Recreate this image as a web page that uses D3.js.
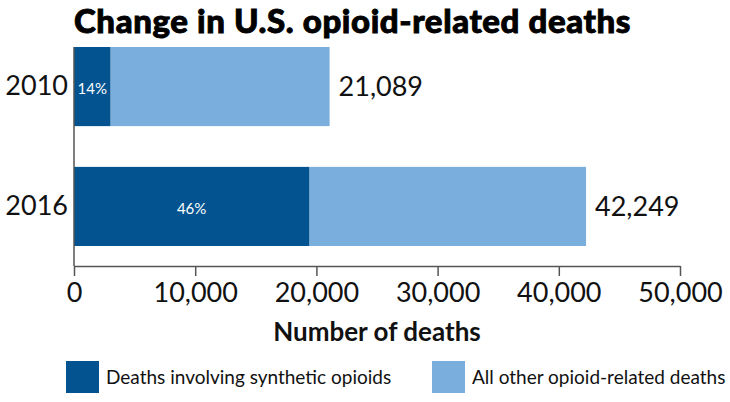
<!DOCTYPE html>
<html><head><meta charset="utf-8">
<script src="https://cdn.jsdelivr.net/npm/d3@7"></script>
<style>
html,body{margin:0;padding:0;background:#fff;}
svg{display:block;font-family:Lato, "Open Sans", sans-serif;}
</style></head>
<body>
<svg id="chart" width="730" height="402"></svg>
<script>
const years = ["2010", "2016"];
const synthetic = [3007, 19413];
const totals = [21089, 42249];
const pctLabels = ["14%", "46%"];
const xTicks = [0, 10000, 20000, 30000, 40000, 50000];
const seriesNames = ["Deaths involving synthetic opioids", "All other opioid-related deaths"];
const colors = ["#02538f", "#7aaedd"];

const svg = d3.select("#chart");
const x = d3.scaleLinear().domain([0, 50000]).range([74, 680]);
const y = d3.scaleBand().domain(years).range([47, 246]).paddingInner(0.34).paddingOuter(0);

// title
svg.append("text").attr("x", 74).attr("y", 33)
  .attr("font-size", 33).attr("font-weight", 900).attr("fill", "#000")
  .attr("stroke", "#000").attr("stroke-width", 0.9).attr("letter-spacing", 0.6)
  .text("Change in U.S. opioid-related deaths");

// bars
const rows = years.map((yr, i) => ({yr, syn: synthetic[i], total: totals[i], pct: pctLabels[i]}));
const g = svg.append("g");
g.selectAll("rect.other").data(rows).join("rect")
  .attr("x", d => x(d.syn)).attr("y", d => y(d.yr))
  .attr("width", d => x(d.total) - x(d.syn)).attr("height", y.bandwidth())
  .attr("fill", colors[1]);
g.selectAll("rect.syn").data(rows).join("rect")
  .attr("x", x(0)).attr("y", d => y(d.yr))
  .attr("width", d => x(d.syn) - x(0)).attr("height", y.bandwidth())
  .attr("fill", colors[0]);
g.selectAll("text.pct").data(rows).join("text")
  .attr("x", d => (x(0) + x(d.syn)) / 2).attr("y", d => y(d.yr) + y.bandwidth() / 2 + 2)
  .attr("dy", "0.35em").attr("text-anchor", "middle")
  .attr("font-size", 15).attr("font-weight", 400).attr("fill", "#fff")
  .text(d => d.pct);
g.selectAll("text.total").data(rows).join("text")
  .attr("x", d => x(d.total) + 9).attr("y", d => y(d.yr) + y.bandwidth() / 2)
  .attr("dy", "0.36em")
  .attr("font-size", 27).attr("fill", "#111")
  .text(d => d3.format(",")(d.total));

// y axis
const yAxis = svg.append("g").attr("transform", `translate(${x(0)},0)`)
  .call(d3.axisLeft(y).tickSize(0).tickPadding(6));
yAxis.select(".domain").remove();
yAxis.append("line").attr("x1", 0).attr("x2", 0).attr("y1", 47).attr("y2", 266)
  .attr("stroke", "#555").attr("stroke-width", 1.5);
yAxis.selectAll("text").attr("font-family", "Lato").attr("font-size", 27).attr("fill", "#111");

// x axis
const xAxis = svg.append("g").attr("transform", "translate(0,266)")
  .call(d3.axisBottom(x).tickValues(xTicks).tickFormat(d3.format(",")).tickSize(10).tickPadding(7).tickSizeOuter(0));
xAxis.select(".domain").attr("stroke", "#555").attr("stroke-width", 1.5);
xAxis.selectAll(".tick line").attr("stroke", "#555").attr("stroke-width", 1.5);
xAxis.selectAll("text").attr("font-family", "Lato").attr("font-size", 27).attr("fill", "#111");

svg.append("text").attr("x", 377).attr("y", 341).attr("text-anchor", "middle")
  .attr("font-size", 26).attr("font-weight", 700).attr("fill", "#111")
  .text("Number of deaths");

// legend
const legX = [66, 432];
const leg = svg.append("g");
seriesNames.forEach((name, i) => {
  leg.append("rect").attr("x", legX[i]).attr("y", 361).attr("width", 33).attr("height", 32).attr("fill", colors[i]);
  leg.append("text").attr("x", legX[i] + 40).attr("y", 377).attr("dy", "0.35em")
    .attr("font-size", 19).attr("fill", "#111").text(name);
});
</script>
</body></html>
